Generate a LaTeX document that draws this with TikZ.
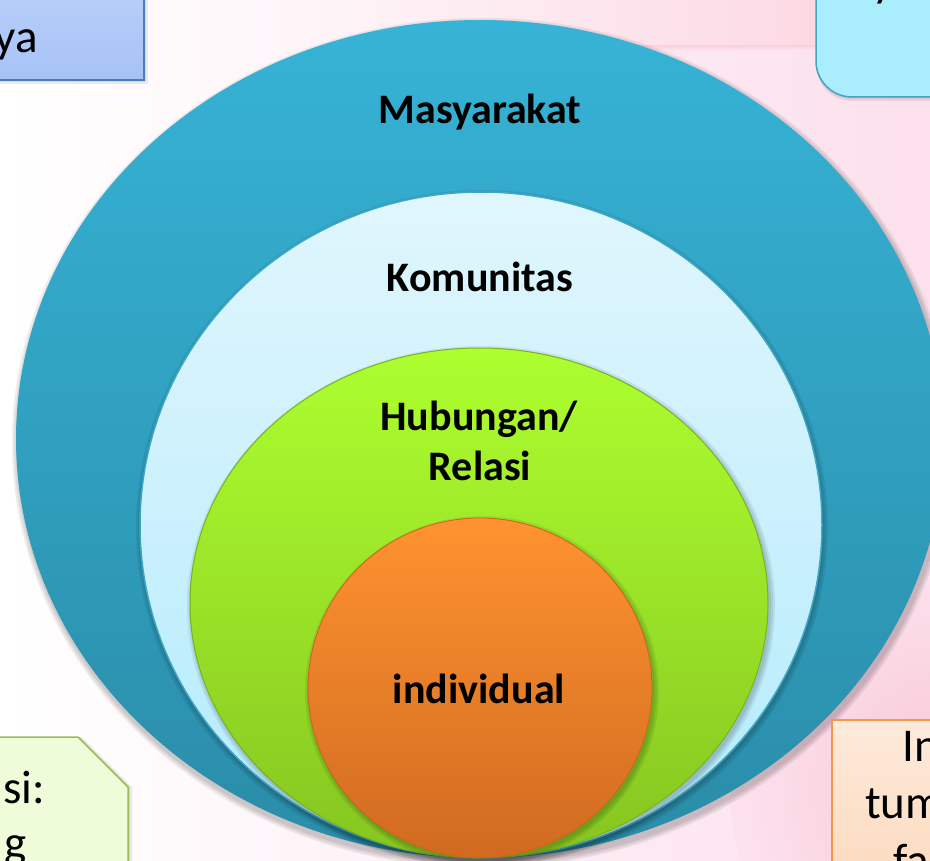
\documentclass[tikz,border=0pt]{standalone}
\usepackage{fontspec}
\setmainfont{Carlito}
\definecolor{tealTop}{HTML}{36B3D6}
\definecolor{tealBot}{HTML}{2A8CA8}
\definecolor{lbTop}{HTML}{E0F6FD}
\definecolor{lbBot}{HTML}{B3EBFC}
\definecolor{lbRim}{HTML}{3FA6C4}
\definecolor{grTop}{HTML}{ADFF2F}
\definecolor{grBot}{HTML}{86C520}
\definecolor{grRim}{HTML}{78B41C}
\definecolor{orTop}{HTML}{FF9330}
\definecolor{orBot}{HTML}{D06A20}
\definecolor{orRim}{HTML}{C8661E}
\definecolor{bgPink}{HTML}{FCE0EC}
\definecolor{bgPinkTop}{HTML}{FBD3DF}
\definecolor{bgPinkDeep}{HTML}{F8C4D4}
\definecolor{boxBlueTop}{HTML}{BBD0FA}
\definecolor{boxBlueBot}{HTML}{A6C2F6}
\definecolor{boxBlueRim}{HTML}{4A7EBB}
\definecolor{boxCyan}{HTML}{AAEDFC}
\definecolor{boxCyanRim}{HTML}{45A5C0}
\definecolor{boxGreen}{HTML}{EEFCDA}
\definecolor{boxGreenRim}{HTML}{9BBB59}
\definecolor{boxPeachTop}{HTML}{FDEADA}
\definecolor{boxPeachBot}{HTML}{FCD9BC}
\definecolor{boxPeachRim}{HTML}{F79646}
\tikzset{
  lbl/.style={font=\fontsize{42}{50}\selectfont\bfseries, text=black, inner sep=0pt, anchor=base},
  boxtxt/.style={font=\fontsize{47}{56}\selectfont, text=black, inner sep=0pt},
  shadowlayer/.style={fill=black, opacity=0.07},
}
\begin{document}
\begin{tikzpicture}[x=1pt,y=-1pt]
\useasboundingbox (0,0) rectangle (930,861);
\clip (0,0) rectangle (930,861);
% background
\shade[left color=white, right color=bgPink] (0,0) rectangle (930,861);
\shade[left color=bgPink!38!white, right color=bgPinkTop] (350,0) rectangle (930,46);
\shade[top color=bgPinkTop, bottom color=bgPink!38!white!60!bgPink] (350,46) rectangle (930,52);
\shade[inner color=bgPinkDeep, outer color=bgPink!92!white] (960,790) circle [radius=230pt];

% outer ellipse shadow
\foreach \d in {2,4,6}{
  \fill[shadowlayer] (482,443) ellipse [x radius=464pt+\d pt, y radius=419pt+\d pt];
}
\shade[top color=tealTop, bottom color=tealBot] (480,439) ellipse [x radius=464pt, y radius=419pt];

% light blue ellipse
\foreach \d in {1,3,5}{
  \fill[shadowlayer] (482,528) ellipse [x radius=341pt+\d pt, y radius=333pt+\d pt];
}
\shade[top color=lbTop, bottom color=lbBot, draw=lbRim, line width=1.5pt] (481,525) ellipse [x radius=341pt, y radius=333pt];

% green ellipse
\foreach \d in {1,3,5}{
  \fill[shadowlayer] (481,606) ellipse [x radius=289pt+\d pt, y radius=255pt+\d pt];
}
\shade[top color=grTop, bottom color=grBot, draw=grRim, line width=1pt] (479,603) ellipse [x radius=289pt, y radius=255pt];

% orange circle
\foreach \d in {1,3,5}{
  \fill[shadowlayer] (482,691) ellipse [x radius=172pt+\d pt, y radius=170pt+\d pt];
}
\shade[top color=orTop, bottom color=orBot, draw=orRim, line width=0.8pt] (480,688) ellipse [x radius=172pt, y radius=170pt];

% labels
\node[lbl] (masy) at (480,124) {Masyarakat};
\node[lbl] (komu) at (480,292) {Komunitas};
\node[lbl] (hub) at (479,430) {Hubungan/};
\node[lbl] (rel) at (480,480) {Relasi};
\node[lbl] (indiv) at (479,703) {individual};

% top-left box
\foreach \d in {2,4}{
  \fill[shadowlayer] (-20,-20) rectangle (144+\d,80+\d);
}
\shade[top color=boxBlueTop, bottom color=boxBlueBot, draw=boxBlueRim, line width=1.5pt] (-20,-20) rectangle (144,80);
\node[boxtxt, anchor=base east] (tlText) at (38,53) {ya};

% top-right box
\foreach \d in {2,4}{
  \fill[shadowlayer, rounded corners=36pt] (816,-60) rectangle (970+\d,97+\d);
}
\fill[boxCyan, draw=boxCyanRim, line width=1.5pt, rounded corners=36pt] (816,-60) rectangle (970,97);
\node[boxtxt, anchor=base west] (trText) at (872,-3) {y};

% bottom-left snipped box
\foreach \d in {2,4}{
  \fill[shadowlayer] (-20,737) -- (78+\d,737) -- (128+\d,787) -- (128+\d,900) -- (-20,900) -- cycle;
}
\fill[boxGreen, draw=boxGreenRim, line width=1.5pt] (-20,737) -- (78,737) -- (128,787) -- (128,900) -- (-20,900) -- cycle;
\node[boxtxt, anchor=base west] (blText1) at (3,803) {si:};
\node[boxtxt, anchor=base west] (blText2) at (4,858) {g};

% bottom-right box
\foreach \d in {2,4}{
  \fill[shadowlayer] (832,720) rectangle (960+\d,900+\d);
}
\shade[top color=boxPeachTop, bottom color=boxPeachBot, draw=boxPeachRim, line width=1.5pt] (832,720) rectangle (960,900);
\node[boxtxt, anchor=base west] (brText1) at (902,761) {In};
\node[boxtxt, anchor=base west] (brText2) at (865,818) {tum};
\node[boxtxt, anchor=base west] (brText3) at (893,876) {fa};
\end{tikzpicture}
\end{document}
